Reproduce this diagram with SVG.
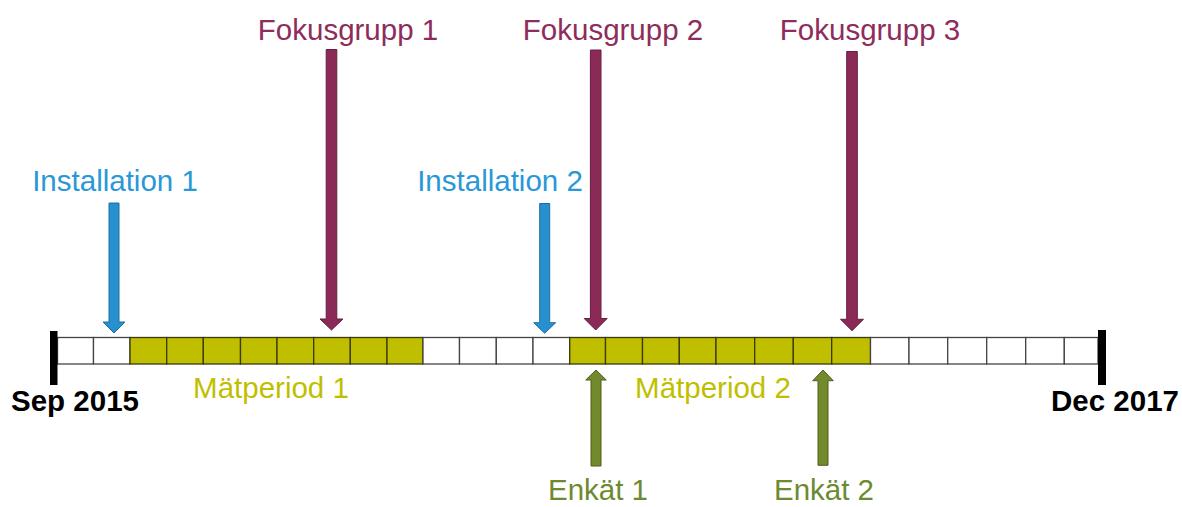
<svg xmlns="http://www.w3.org/2000/svg" width="1182" height="507" viewBox="0 0 1182 507">
<style>
text{font-family:"Liberation Sans",Arial,sans-serif;font-size:29.5px;text-anchor:middle}
.blue{fill:#2A98D6}
.mar{fill:#8E2D5B}
.olv{fill:#BFBF00}
.enk{fill:#6C8A2F}
.bold{font-weight:bold;fill:#000}
.cw{fill:#fff;stroke:#444;stroke-width:1.3}
.co{fill:#BFBF00;stroke:#3a3a10;stroke-width:1.3}
.ab{fill:#2791CF;stroke:#1E6E9F;stroke-width:1}
.am{fill:#8B2A57;stroke:#661E40;stroke-width:1}
.ao{fill:#738A2C;stroke:#4D5F1D;stroke-width:1}
</style>
<rect width="1182" height="507" fill="#fff"/>
<g id="timeline">
<rect class="cw" x="57.5" y="337.5" width="36" height="26.5"/>
<rect class="cw" x="93.5" y="337.5" width="36.5" height="26.5"/>
<rect class="co" x="130" y="337.5" width="36.7" height="26.5"/>
<rect class="co" x="166.7" y="337.5" width="36.6" height="26.5"/>
<rect class="co" x="203.3" y="337.5" width="37.2" height="26.5"/>
<rect class="co" x="240.5" y="337.5" width="36.5" height="26.5"/>
<rect class="co" x="277" y="337.5" width="36.7" height="26.5"/>
<rect class="co" x="313.7" y="337.5" width="36.6" height="26.5"/>
<rect class="co" x="350.3" y="337.5" width="36.7" height="26.5"/>
<rect class="co" x="387" y="337.5" width="36" height="26.5"/>
<rect class="cw" x="423" y="337.5" width="36.5" height="26.5"/>
<rect class="cw" x="459.5" y="337.5" width="36.8" height="26.5"/>
<rect class="cw" x="496.3" y="337.5" width="36.7" height="26.5"/>
<rect class="cw" x="533" y="337.5" width="36.7" height="26.5"/>
<rect class="co" x="569.7" y="337.5" width="35.8" height="26.5"/>
<rect class="co" x="605.5" y="337.5" width="37" height="26.5"/>
<rect class="co" x="642.5" y="337.5" width="36.8" height="26.5"/>
<rect class="co" x="679.3" y="337.5" width="36.7" height="26.5"/>
<rect class="co" x="716" y="337.5" width="38.7" height="26.5"/>
<rect class="co" x="754.7" y="337.5" width="38.6" height="26.5"/>
<rect class="co" x="793.3" y="337.5" width="38.4" height="26.5"/>
<rect class="co" x="831.7" y="337.5" width="38.8" height="26.5"/>
<rect class="cw" x="870.5" y="337.5" width="38.5" height="26.5"/>
<rect class="cw" x="909" y="337.5" width="38.7" height="26.5"/>
<rect class="cw" x="947.7" y="337.5" width="39" height="26.5"/>
<rect class="cw" x="986.7" y="337.5" width="39" height="26.5"/>
<rect class="cw" x="1025.7" y="337.5" width="38.6" height="26.5"/>
<rect class="cw" x="1064.3" y="337.5" width="33.7" height="26.5"/>
<rect x="50" y="331" width="7.5" height="54" fill="#000"/>
<rect x="1098" y="330" width="8" height="55" fill="#000"/>
</g>
<g id="connectors">
<polygon class="ab" points="109,203 119,203 119,322 125,322 114,333 103,322 109,322"/>
<polygon class="ab" points="539.7,203.5 549.7,203.5 549.7,322.7 555.7,322.7 544.7,333.3 533.7,322.7 539.7,322.7"/>
<polygon class="am" points="326.2,49.5 336.8,49.5 336.8,319 343,319 331.5,330 320,319 326.2,319"/>
<polygon class="am" points="590.4,50 601,50 601,318.5 607.2,318.5 595.7,330 584.2,318.5 590.4,318.5"/>
<polygon class="am" points="846.7,51.5 857.3,51.5 857.3,319.3 863.5,319.3 852,330.7 840.5,319.3 846.7,319.3"/>
<polygon class="ao" points="596,370 606.3,380 601,380 601,466 591,466 591,380 585.7,380"/>
<polygon class="ao" points="823,370 833.3,380.7 828,380.7 828,465.3 818,465.3 818,380.7 812.7,380.7"/>
</g>
<g id="installation1"><text class="blue" x="115" y="191">Installation 1</text></g>
<g id="installation2"><text class="blue" x="500" y="191">Installation 2</text></g>
<g id="fokus1"><text class="mar" x="348" y="40">Fokusgrupp 1</text></g>
<g id="fokus2"><text class="mar" x="613" y="40">Fokusgrupp 2</text></g>
<g id="fokus3"><text class="mar" x="870" y="40">Fokusgrupp 3</text></g>
<g id="matperiod1"><text class="olv" x="271" y="398">Mätperiod 1</text></g>
<g id="matperiod2"><text class="olv" x="713" y="398">Mätperiod 2</text></g>
<g id="start"><text class="bold" x="75" y="411">Sep 2015</text></g>
<g id="end"><text class="bold" x="1115" y="411">Dec 2017</text></g>
<g id="enkat1"><text class="enk" x="598" y="500">Enkät 1</text></g>
<g id="enkat2"><text class="enk" x="824" y="500">Enkät 2</text></g>
</svg>
